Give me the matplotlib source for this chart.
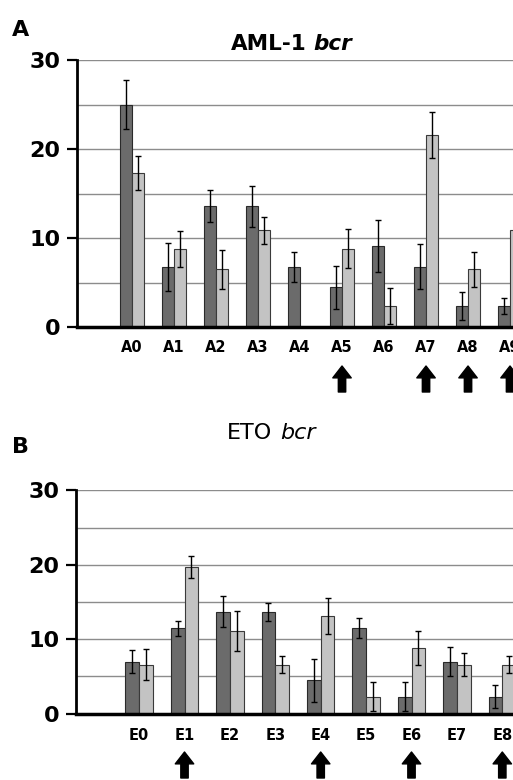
import matplotlib
matplotlib.use("Agg")
import matplotlib.pyplot as plt
import matplotlib.transforms as mtransforms
import numpy as np

plt.rcParams['font.family'] = ['DejaVu Sans']

# ---- Data ----
a_labels = ["A0", "A1", "A2", "A3", "A4", "A5", "A6", "A7", "A8", "A9"]
a_dark = [25.0, 6.8, 13.6, 13.6, 6.8, 4.5, 9.1, 6.8, 2.4, 2.4]
a_dark_err = [2.8, 2.7, 1.8, 2.3, 1.7, 2.4, 2.9, 2.5, 1.6, 0.9]
a_light = [17.3, 8.8, 6.5, 10.9, 0.0, 8.8, 2.4, 21.6, 6.5, 10.9]
a_light_err = [1.9, 2.0, 2.2, 1.5, 0.0, 2.2, 2.0, 2.6, 2.0, 2.0]
a_arrows = ["A5", "A7", "A8", "A9"]

e_labels = ["E0", "E1", "E2", "E3", "E4", "E5", "E6", "E7", "E8"]
e_dark = [7.0, 11.5, 13.7, 13.7, 4.5, 11.5, 2.3, 7.0, 2.3]
e_dark_err = [1.5, 1.0, 2.1, 1.2, 2.9, 1.3, 1.9, 1.9, 1.6]
e_light = [6.6, 19.7, 11.1, 6.6, 13.1, 2.3, 8.8, 6.6, 6.6]
e_light_err = [2.1, 1.5, 2.7, 1.1, 2.4, 2.0, 2.3, 1.5, 1.1]
e_arrows = ["E1", "E4", "E6", "E8"]

DARK = "#6b6b6b"
LIGHT = "#c3c3c3"

W, H = 513, 780
fig = plt.figure(figsize=(W / 100, H / 100), dpi=100)


def px_box(left, top, right, bottom):
    return [left / W, 1 - bottom / H, (right - left) / W, (bottom - top) / H]


def panel(box, labels, dark, dark_err, light, light_err, xlim, width, xpad, arrows, arrow_y):
    ax = fig.add_axes(box)
    x = np.arange(len(labels))
    ekw = dict(ecolor="black", elinewidth=1.0, capsize=2.0, capthick=1.0)
    ax.bar(x - width / 2, dark, width, color=DARK, edgecolor="#2a2a2a", linewidth=0.8,
           yerr=dark_err, error_kw=ekw, zorder=3)
    lv = np.array(light)
    le = np.array(light_err)
    ax.bar(x + width / 2, lv, width, color=LIGHT, edgecolor="#3a3a3a",
           linewidth=np.where(lv > 0, 0.8, 0.0),
           yerr=np.where(lv > 0, le, np.nan), error_kw=ekw, zorder=3)
    ax.set_xlim(*xlim)
    ax.set_ylim(0, 30)
    ax.set_yticks([0, 10, 20, 30])
    ax.set_yticks([5, 15, 25], minor=True)
    ax.grid(axis="y", which="both", color="#8c8c8c", linewidth=1.0, zorder=0)
    ax.set_axisbelow(True)
    ax.set_xticks(x)
    ax.set_xticklabels(labels, fontsize=10.5, fontweight="bold")
    ax.tick_params(axis="x", length=0, pad=xpad)
    ax.tick_params(axis="y", which="major", length=7, width=1.6, pad=5, labelsize=16)
    ax.tick_params(axis="y", which="minor", length=0)
    for t in ax.get_yticklabels():
        t.set_fontweight("bold")
    for s in ["top", "right"]:
        ax.spines[s].set_visible(False)
    ax.spines["left"].set_linewidth(2.0)
    ax.spines["bottom"].set_linewidth(2.5)
    ax.spines["bottom"].set_zorder(5)
    trans = mtransforms.blended_transform_factory(ax.transData, fig.transFigure)
    y0, y1 = 1 - arrow_y[1] / H, 1 - arrow_y[0] / H
    for lab in arrows:
        xi = labels.index(lab)
        ax.annotate("", xy=(xi, y1), xytext=(xi, y0), xycoords=trans, textcoords=trans,
                    annotation_clip=False,
                    arrowprops=dict(arrowstyle="simple,head_length=0.45,head_width=0.7,tail_width=0.28",
                                    mutation_scale=19, color="black", shrinkA=0, shrinkB=0))
    return ax


# Panel A
axA = panel(px_box(77, 60, 77 + 10.81 * 42, 327.3), a_labels, a_dark, a_dark_err, a_light, a_light_err,
            (-1.31, 9.5), 0.285, 9, a_arrows, (366, 392))
# Panel B
axB = panel(px_box(76, 490.3, 76 + 10.89 * 45.4, 713.7), e_labels, e_dark, e_dark_err, e_light, e_light_err,
            (-1.39, 9.5), 0.30, 10, e_arrows, (752, 778))

# Titles and panel letters
fig.text(12 / W, 1 - 36 / H, "A", fontsize=16, fontweight="bold", ha="left", va="baseline")
fig.text(307 / W, 1 - 49.5 / H, "AML-1", fontsize=15.5, fontweight="bold", ha="right", va="baseline")
fig.text(313 / W, 1 - 49.5 / H, "bcr", fontsize=15.5, fontweight="bold", style="italic", ha="left", va="baseline")

fig.text(12 / W, 1 - 453 / H, "B", fontsize=16, fontweight="bold", ha="left", va="baseline")
fig.text(272 / W, 1 - 439 / H, "ETO", fontsize=16, ha="right", va="baseline")
fig.text(280 / W, 1 - 439 / H, "bcr", fontsize=16, style="italic", ha="left", va="baseline")

fig.savefig("out.png", dpi=100)
